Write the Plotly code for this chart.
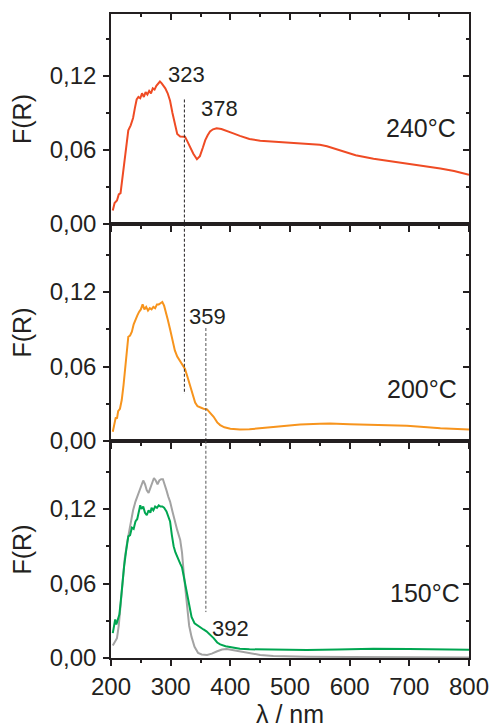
import plotly.graph_objects as go

# ---------------- data ----------------
# 240 °C sample
LAMBDA_240 = [203, 206, 210, 213, 216, 219, 222, 225, 229, 233, 237, 240, 243, 246, 249, 252,
              255, 258, 261, 264, 267, 270, 273, 276, 279, 282, 285, 288, 291, 295, 299, 303,
              307, 311, 316, 320, 324, 328, 333, 338, 344, 349, 354, 358, 362, 366, 371, 377,
              385, 394, 405, 416, 432, 450, 472, 500, 528, 550, 562, 575, 590, 610, 640, 670,
              696, 725, 752, 775, 800]
FR_240 = [0.011, 0.017, 0.019, 0.024, 0.025, 0.036, 0.046, 0.058, 0.076, 0.080, 0.086, 0.094,
          0.101, 0.103, 0.102, 0.106, 0.103, 0.107, 0.105, 0.108, 0.106, 0.110, 0.109, 0.112,
          0.114, 0.1155, 0.114, 0.112, 0.110, 0.106, 0.100, 0.090, 0.080, 0.073, 0.071, 0.0712,
          0.0708, 0.067, 0.062, 0.057, 0.0525, 0.055, 0.062, 0.068, 0.072, 0.075, 0.0768, 0.0777,
          0.077, 0.0757, 0.0735, 0.0715, 0.069, 0.0675, 0.0668, 0.066, 0.065, 0.0642, 0.063,
          0.061, 0.0585, 0.0558, 0.053, 0.051, 0.049, 0.047, 0.045, 0.043, 0.040]

# 200 °C sample
LAMBDA_200 = [203, 206, 208, 210, 212, 215, 218, 221, 224, 227, 229, 232, 235, 238, 241, 244,
              247, 250, 253, 256, 259, 262, 265, 268, 271, 274, 277, 280, 283, 286, 289, 292,
              295, 299, 303, 307, 311, 316, 320, 324, 328, 333, 337, 341, 345, 349, 355, 361,
              366, 372, 378, 383, 390, 400, 416, 432, 472, 517, 550, 567, 600, 640, 696, 730,
              752, 800]
FR_200 = [0.0075, 0.016, 0.019, 0.018, 0.024, 0.026, 0.033, 0.045, 0.058, 0.076, 0.084, 0.085,
          0.088, 0.094, 0.098, 0.101, 0.104, 0.106, 0.110, 0.106, 0.108, 0.105, 0.107, 0.106,
          0.108, 0.107, 0.110, 0.110, 0.111, 0.112, 0.109, 0.104, 0.098, 0.090, 0.081, 0.073,
          0.068, 0.064, 0.061, 0.058, 0.052, 0.044, 0.037, 0.031, 0.028, 0.027, 0.026, 0.0255,
          0.023, 0.0195, 0.015, 0.0128, 0.011, 0.0098, 0.0093, 0.0095, 0.0112, 0.0133, 0.0138,
          0.014, 0.0135, 0.013, 0.0122, 0.011, 0.0102, 0.0093]

# 150 °C sample
LAMBDA_150 = [203, 205, 207, 209, 212, 214, 216, 219, 222, 225, 229, 232, 235, 238, 241, 244,
              247, 249, 251, 254, 257, 260, 263, 266, 268, 271, 274, 277, 280, 283, 286, 289,
              293, 296, 299, 302, 305, 308, 312, 316, 319, 323, 327, 331, 335, 340, 344, 350,
              355, 360, 366, 372, 378, 383, 392, 405, 416, 432, 472, 528, 580, 640, 700, 760, 800]
FR_150 = [0.020, 0.028, 0.031, 0.027, 0.033, 0.035, 0.044, 0.060, 0.074, 0.085, 0.098, 0.099,
          0.105, 0.104, 0.110, 0.112, 0.118, 0.123, 0.120, 0.122, 0.117, 0.115, 0.119, 0.117,
          0.121, 0.119, 0.122, 0.121, 0.123, 0.122, 0.122, 0.121, 0.118, 0.114, 0.110, 0.099,
          0.090, 0.085, 0.080, 0.076, 0.073, 0.063, 0.052, 0.042, 0.033, 0.028, 0.0265, 0.025,
          0.023, 0.0215, 0.019, 0.016, 0.0125, 0.011, 0.0095, 0.0085, 0.0075, 0.007, 0.0066,
          0.0065, 0.0068, 0.0075, 0.0072, 0.0068, 0.0066]

# reference spectrum shown with the 150 °C sample
LAMBDA_REF = [203, 207, 210, 213, 216, 220, 223, 227, 232, 237, 241, 246, 250, 254, 257, 260,
              263, 266, 269, 272, 275, 278, 281, 284, 287, 290, 293, 296, 299, 303, 307, 311,
              316, 319, 322, 325, 328, 331, 335, 340, 346, 352, 361, 369, 377, 386, 394, 405,
              416, 432, 450, 472, 528, 600, 700, 800]
FR_REF = [0.010, 0.013, 0.016, 0.026, 0.041, 0.062, 0.080, 0.093, 0.106, 0.119, 0.126, 0.133,
          0.138, 0.143, 0.140, 0.135, 0.133, 0.137, 0.142, 0.145, 0.143, 0.140, 0.143, 0.144,
          0.144, 0.140, 0.135, 0.130, 0.126, 0.118, 0.110, 0.103, 0.095, 0.085, 0.068, 0.052,
          0.036, 0.026, 0.017, 0.009, 0.004, 0.0028, 0.0025, 0.0035, 0.0052, 0.0068, 0.0072,
          0.0063, 0.0052, 0.0038, 0.0025, 0.0017, 0.001, 0.0008, 0.0006, 0.0005]

# marker lines: wavelength and vertical extent (F(R)) in each panel
BAND_323 = 323
BAND_323_TOP = (0.101, 0.0)      # 240 °C panel
BAND_323_MID = (0.175, 0.038)    # 200 °C panel
BAND_359 = 359
BAND_359_MID = (0.091, 0.0)      # 200 °C panel
BAND_359_BOT = (0.175, 0.037)    # 150 °C panel

X_RANGE = [200, 800]
X_TICKS = [200, 300, 400, 500, 600, 700, 800]
X_TICK_LABELS = ["200", "300", "400", "500", "600", "700", "800"]
Y_TICKS = [0.0, 0.06, 0.12]
Y_TICK_LABELS = ["0,00", "0,06", "0,12"]
Y_RANGE_TOP = [0, 0.1703]
Y_RANGE = [0, 0.1748]

RED = "#EF4B24"
ORANGE = "#F7941D"
GREEN = "#00A651"
GREY = "#A3A3A3"
INK = "#231F20"
FONT = "Liberation Sans, Arial, sans-serif"

# ---------------- figure ----------------
fig = go.Figure()

fig.add_trace(go.Scatter(x=LAMBDA_240, y=FR_240, mode="lines", line=dict(color=RED, width=2),
                         xaxis="x", yaxis="y", showlegend=False))
fig.add_trace(go.Scatter(x=LAMBDA_200, y=FR_200, mode="lines", line=dict(color=ORANGE, width=2),
                         xaxis="x2", yaxis="y2", showlegend=False))
fig.add_trace(go.Scatter(x=LAMBDA_REF, y=FR_REF, mode="lines", line=dict(color=GREY, width=2),
                         xaxis="x3", yaxis="y3", showlegend=False))
fig.add_trace(go.Scatter(x=LAMBDA_150, y=FR_150, mode="lines", line=dict(color=GREEN, width=2),
                         xaxis="x3", yaxis="y3", showlegend=False))

# dashed band markers
def band(x, yr, xa, ya, color):
    fig.add_trace(go.Scatter(x=[x, x], y=list(yr), mode="lines",
                             line=dict(color=color, width=1, dash="3px,2px"),
                             xaxis=xa, yaxis=ya, showlegend=False, hoverinfo="skip"))

band(BAND_323, BAND_323_TOP, "x", "y", INK)
band(BAND_323, BAND_323_MID, "x2", "y2", INK)
band(BAND_359, BAND_359_MID, "x2", "y2", "#555555")
band(BAND_359, BAND_359_BOT, "x3", "y3", "#555555")

# domains (plot area 644 px tall: 210 / 217 / 217)
H = 644.0
dom_bot = [0, 217 / H]
dom_mid = [217 / H, 434 / H]
dom_top = [434 / H, 1]

tick_font = dict(family=FONT, size=24, color=INK)

def xaxis(anchor, show_labels, title=None):
    d = dict(range=X_RANGE, anchor=anchor, showline=True, linecolor=INK, linewidth=1.6,
             ticks="outside", ticklen=6, tickwidth=1.6, tickcolor=INK, automargin=False,
             tickmode="array", tickvals=X_TICKS, ticktext=X_TICK_LABELS,
             showticklabels=show_labels, tickfont=tick_font, showgrid=False, zeroline=False,
             minor=dict(ticks="outside", ticklen=3.5, tickwidth=1.6, tickcolor=INK,
                        tick0=200, dtick=50, showgrid=False))
    if title:
        d["title"] = dict(text=title, font=dict(family=FONT, size=25, color=INK), standoff=12)
    return d

def xaxis_top(overlay, anchor):
    return dict(range=X_RANGE, overlaying=overlay, anchor=anchor, side="top", showline=True,
                linecolor=INK, linewidth=1.6, ticks="inside", ticklen=6, tickwidth=1.6,
                tickcolor=INK, tickmode="array", tickvals=X_TICKS, showticklabels=False,
                showgrid=False, zeroline=False, automargin=False,
                minor=dict(ticks="inside", ticklen=3.5, tickwidth=1.6, tickcolor=INK,
                           tick0=200, dtick=50, showgrid=False))

def yaxis(domain, rng, anchor):
    return dict(domain=domain, range=rng, anchor=anchor, showline=True, linecolor=INK,
                linewidth=1.6, ticks="outside", ticklen=6, tickwidth=1.6, tickcolor=INK,
                tickmode="array", tickvals=Y_TICKS, ticktext=Y_TICK_LABELS, tickfont=tick_font,
                showgrid=False, zeroline=False, ticklabelstandoff=2, automargin=False,
                title=dict(text="F(R)", font=dict(family=FONT, size=25, color=INK), standoff=11),
                minor=dict(ticks="outside", ticklen=3.5, tickwidth=1.6, tickcolor=INK,
                           tick0=0, dtick=0.03, showgrid=False))

def yaxis_right(domain, rng, overlay, anchor):
    return dict(domain=domain, range=rng, overlaying=overlay, anchor=anchor, side="right",
                showline=True, linecolor=INK, linewidth=1.6, ticks="inside", ticklen=6,
                tickwidth=1.6, tickcolor=INK, tickmode="array", tickvals=Y_TICKS,
                showticklabels=False, showgrid=False, zeroline=False, automargin=False,
                minor=dict(ticks="inside", ticklen=3.5, tickwidth=1.6, tickcolor=INK,
                           tick0=0, dtick=0.03, showgrid=False))

fig.update_layout(
    width=491, height=728,
    margin=dict(l=111, r=22, t=14, b=70, autoexpand=False),
    paper_bgcolor="white", plot_bgcolor="white",
    font=dict(family=FONT, color=INK),
    xaxis=xaxis("y", False),
    xaxis2=xaxis("y2", False),
    xaxis3=xaxis("y3", True, "λ / nm"),
    xaxis4=xaxis_top("x", "y"),
    xaxis5=xaxis_top("x2", "y2"),
    xaxis6=xaxis_top("x3", "y3"),
    yaxis=yaxis(dom_top, Y_RANGE_TOP, "x"),
    yaxis2=yaxis(dom_mid, Y_RANGE, "x2"),
    yaxis3=yaxis(dom_bot, Y_RANGE, "x3"),
    yaxis4=yaxis_right(dom_top, Y_RANGE_TOP, "y", "x"),
    yaxis5=yaxis_right(dom_mid, Y_RANGE, "y2", "x2"),
    yaxis6=yaxis_right(dom_bot, Y_RANGE, "y3", "x3"),
)

# invisible traces so the overlay axes are drawn
for xa, ya in [("x4", "y"), ("x5", "y2"), ("x6", "y3"), ("x", "y4"), ("x2", "y5"), ("x3", "y6")]:
    fig.add_trace(go.Scatter(x=[None], y=[None], xaxis=xa, yaxis=ya, showlegend=False,
                             hoverinfo="skip"))

# band labels and temperature labels
labels = [
    ("323", 326, 0.121, "x", "y", 22),
    ("378", 381, 0.094, "x", "y", 22),
    ("359", 361, 0.100, "x2", "y2", 22),
    ("392", 401, 0.0234, "x3", "y3", 22),
    ("240°C", 720, 0.078, "x", "y", 25),
    ("200°C", 722, 0.042, "x2", "y2", 25),
    ("150°C", 727, 0.052, "x3", "y3", 25),
]
for text, x, y, xr, yr, size in labels:
    fig.add_annotation(x=x, y=y, xref=xr, yref=yr, text=text, showarrow=False,
                       font=dict(family=FONT, size=size, color=INK))

fig.write_html("out.html")
